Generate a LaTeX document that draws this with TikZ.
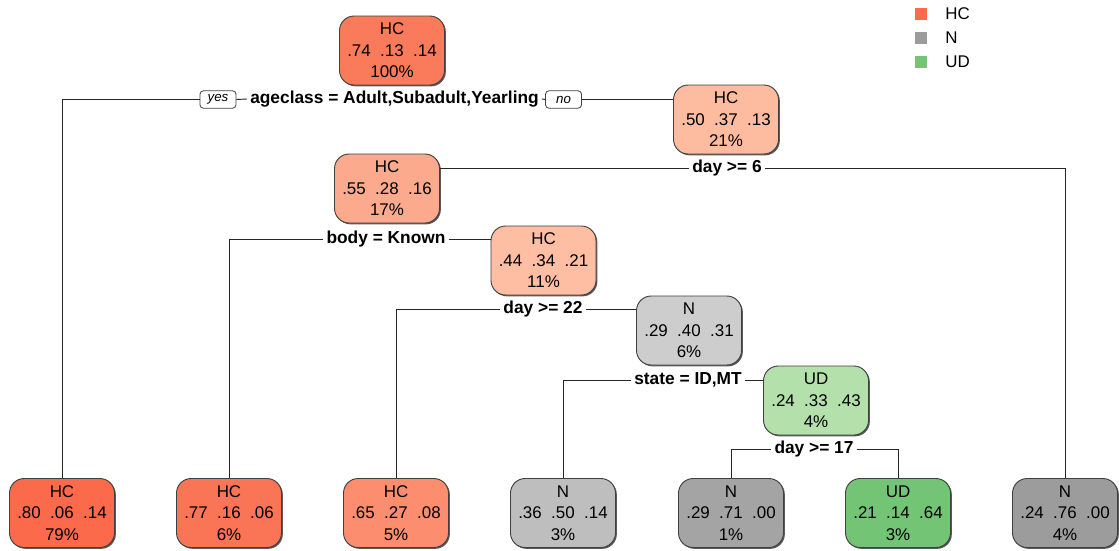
\documentclass[tikz,border=0pt]{standalone}
\usepackage{fontspec}
\setmainfont{Liberation Sans}
\usetikzlibrary{shadows}
\definecolor{hcA}{HTML}{FB6A4A}
\definecolor{hcB}{HTML}{FA7556}
\definecolor{hcC}{HTML}{F97B5C}
\definecolor{hcD}{HTML}{FC8E6F}
\definecolor{hcE}{HTML}{FCAA8D}
\definecolor{hcF}{HTML}{FDBBA0}
\definecolor{hcG}{HTML}{FDBEA3}
\definecolor{nA}{HTML}{CDCDCD}
\definecolor{nB}{HTML}{BEBEBE}
\definecolor{nC}{HTML}{A4A4A4}
\definecolor{nD}{HTML}{9C9C9C}
\definecolor{udA}{HTML}{B3E0AB}
\definecolor{udB}{HTML}{74C476}
\begin{document}
\begin{tikzpicture}[x=0.75pt,y=-0.75pt,
  nbox/.style={draw=black!75, line width=0.7pt, rounded corners=11pt,
    minimum width=78.75pt, minimum height=51.75pt, inner sep=0pt, align=center,
    font=\fontsize{12.7}{16.1}\selectfont,
    drop shadow={shadow xshift=1pt, shadow yshift=-1pt, fill=black!65, opacity=1}},
  split/.style={inner sep=2.2pt, font=\bfseries\fontsize{13}{15}\selectfont},
  yn/.style={draw=black!75, fill=white, rounded corners=2.5pt, line width=0.6pt,
    font=\itshape\fontsize{10}{11}\selectfont, minimum width=27pt,
    minimum height=13pt, inner sep=1pt},
  edge/.style={draw=black!85, line width=0.7pt},
  legsq/.style={minimum size=9pt, inner sep=0pt},
  legtx/.style={anchor=west, inner sep=0pt, font=\fontsize{12.7}{15}\selectfont}]
\useasboundingbox[fill=white] (0,0) rectangle (1119,550);

% internal nodes
\node[nbox, fill=hcC] (n1) at (392,50.5) {HC\\.74~~.13~~.14\\100\%};
\node[nbox, fill=hcF] (n3) at (726,119.5) {HC\\.50~~.37~~.13\\21\%};
\node[nbox, fill=hcE] (n6) at (387,188.5) {HC\\.55~~.28~~.16\\17\%};
\node[nbox, fill=hcG] (n13) at (543.5,260.5) {HC\\.44~~.34~~.21\\11\%};
\node[nbox, fill=nA] (n26) at (689,330.5) {N\\.29~~.40~~.31\\6\%};
\node[nbox, fill=udA] (n53) at (816,400.5) {UD\\.24~~.33~~.43\\4\%};

% leaves
\node[nbox, fill=hcA] (l1) at (62,513) {HC\\.80~~.06~~.14\\79\%};
\node[nbox, fill=hcB] (l2) at (229,513) {HC\\.77~~.16~~.06\\6\%};
\node[nbox, fill=hcD] (l3) at (396,513) {HC\\.65~~.27~~.08\\5\%};
\node[nbox, fill=nB] (l4) at (563,513) {N\\.36~~.50~~.14\\3\%};
\node[nbox, fill=nC] (l5) at (731,513) {N\\.29~~.71~~.00\\1\%};
\node[nbox, fill=udB] (l6) at (898,513) {UD\\.21~~.14~~.64\\3\%};
\node[nbox, fill=nD] (l7) at (1065,513) {N\\.24~~.76~~.00\\4\%};

% split labels
\node[split] (s1) at (394.5,99) {ageclass = Adult,Subadult,Yearling};
\node[split] (s3) at (727,168) {day >= 6};
\node[split] (s6) at (386,239) {body = Known};
\node[split] (s13) at (543,309.5) {day >= 22};
\node[split] (s26) at (688,380) {state = ID,MT};
\node[split] (s53) at (814,449) {day >= 17};
\node[yn] (yes) at (218,99.5) {yes};
\node[yn] (no) at (563.5,99.5) {no};

% connectors
\draw[edge] (l1.north) |- (yes.west);
\draw[edge] (yes.east) -- (s1.west);
\draw[edge] (s1.east) -- (no.west);
\draw[edge] (no.east) -- (no.east -| n3.west);
\draw[edge] (s3.west) -- (s3.west -| n6.east);
\draw[edge] (s3.east) -| (l7.north);
\draw[edge] (l2.north) |- (s6.west);
\draw[edge] (s6.east) -- (s6.east -| n13.west);
\draw[edge] (l3.north) |- (s13.west);
\draw[edge] (s13.east) -- (s13.east -| n26.west);
\draw[edge] (l4.north) |- (s26.west);
\draw[edge] (s26.east) -- (s26.east -| n53.west);
\draw[edge] (l5.north) |- (s53.west);
\draw[edge] (s53.east) -| (l6.north);

% legend
\node[legsq, fill=hcA] (q1) at (920.5,14) {};
\node[legsq, fill=nD] (q2) at (920.5,38) {};
\node[legsq, fill=udB] (q3) at (920.5,62) {};
\node[legtx] (t1) at (945,14) {HC};
\node[legtx] (t2) at (945,38) {N};
\node[legtx] (t3) at (945,62) {UD};
\end{tikzpicture}
\end{document}
